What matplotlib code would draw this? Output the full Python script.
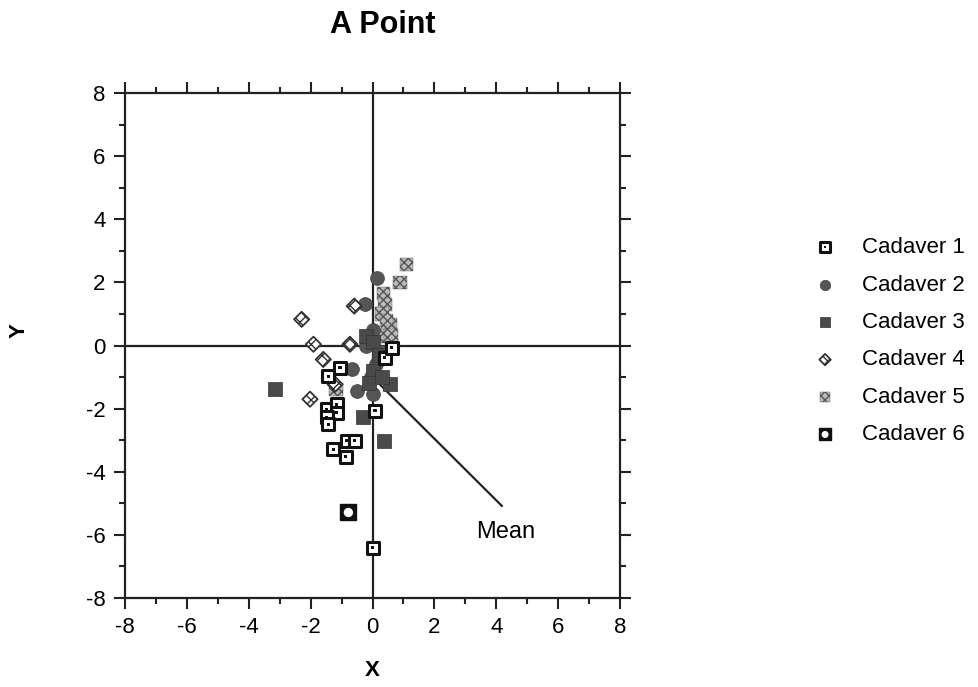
import matplotlib
matplotlib.use('Agg')
import matplotlib.pyplot as plt
from matplotlib.ticker import MultipleLocator
from matplotlib.legend_handler import HandlerTuple
import numpy as np

plt.rcParams['font.family'] = ['Liberation Sans', 'DejaVu Sans']
plt.rcParams['axes.unicode_minus'] = False

# point offsets per cadaver
c1_x = [-1.05, -1.43, -1.48, -1.16, -1.16, -1.48, -1.43, -0.83, -0.57, -1.27, -0.86, 0.08, 0.00, 0.40, 0.62]
c1_y = [-0.70, -0.97, -2.02, -1.86, -2.13, -2.28, -2.49, -3.02, -3.02, -3.28, -3.53, -2.07, -6.40, -0.39, -0.07]

c2_x = [0.14, -0.24, -0.67, -0.51, 0.03, 0.10, -0.20, 0.00, 0.30, -0.05]
c2_y = [2.13, 1.30, -0.75, -1.44, -1.54, -0.60, 0.00, 0.50, -0.20, -1.00]

c3_x = [-3.15, 0.37, -0.30, 0.57, -0.20, 0.00, 0.20, 0.00, -0.10, 0.30]
c3_y = [-1.39, -3.02, -2.28, -1.23, 0.30, 0.10, -0.30, -0.80, -1.20, -1.00]

c4_x = [-0.59, -2.29, -1.91, -0.73, -1.59, -1.21, -2.02]
c4_y = [1.25, 0.83, 0.04, 0.04, -0.44, -1.23, -1.70]

c5_x = [1.10, 0.89, 0.57, -1.18, 0.35, 0.40, 0.30, 0.45, 0.50, 0.30, 0.60]
c5_y = [2.57, 1.99, 0.67, -1.39, 1.65, 1.30, 1.00, 0.80, 0.40, 0.30, 0.30]

c6_x = [-0.78]
c6_y = [-5.29]

mean_x = [0.0, 4.18]
mean_y = [-1.0, -5.08]

labels = ['Cadaver 1', 'Cadaver 2', 'Cadaver 3', 'Cadaver 4', 'Cadaver 5', 'Cadaver 6']

fig = plt.figure(figsize=(9.79, 6.87), dpi=100)
ax = fig.add_axes([0.1277, 0.1295, 0.5056, 0.7351])
ax.set_xlim(-8, 8)
ax.set_ylim(-8, 8)

# cross-hair through the origin
ax.axhline(0, color='#222222', lw=1.6, zorder=1)
ax.axvline(0, color='#222222', lw=1.6, zorder=1)

# mean direction
ax.plot(mean_x, mean_y, color='#222222', lw=1.6, zorder=2)
ax.text(4.3, -5.9, 'Mean', ha='center', va='center', fontsize=17)

h1a = ax.scatter(c1_x, c1_y, marker='s', s=80, facecolor='white', edgecolor='#111111', linewidths=2.2, zorder=5)
h1b = ax.scatter(c1_x, c1_y, marker='s', s=5, facecolor='#111111', edgecolor='none', zorder=6)
h2 = ax.scatter(c2_x, c2_y, marker='o', s=100, facecolor='#555555', edgecolor='#444444', linewidths=0.5, zorder=4)
h3 = ax.scatter(c3_x, c3_y, marker='s', s=95, facecolor='#4a4a4a', edgecolor='#333333', linewidths=0.5, zorder=4)
h4 = ax.scatter(c4_x, c4_y, marker='D', s=60, facecolor='white', edgecolor='#333333', linewidths=1.3,
                hatch='xxx', zorder=4)
h5 = ax.scatter(c5_x, c5_y, marker='s', s=95, facecolor='#bbbbbb', edgecolor='#555555', linewidths=0.3,
                hatch='xxxx', zorder=3)
h6a = ax.scatter(c6_x, c6_y, marker='s', s=120, facecolor='#111111', edgecolor='#111111', linewidths=1, zorder=5)
h6b = ax.scatter(c6_x, c6_y, marker='o', s=45, facecolor='white', edgecolor='none', zorder=6)

ax.set_title('A Point', fontsize=22, fontweight='bold', pad=43, x=0.52)
ax.set_xlabel('X', fontsize=16, fontweight='bold')
ax.set_ylabel('Y', fontsize=16, fontweight='bold')
ax.xaxis.set_label_coords(0.5, -0.123)
ax.yaxis.set_label_coords(-0.192, 0.529)

ax.xaxis.set_major_locator(MultipleLocator(2))
ax.xaxis.set_minor_locator(MultipleLocator(1))
ax.yaxis.set_major_locator(MultipleLocator(2))
ax.yaxis.set_minor_locator(MultipleLocator(1))
ax.tick_params(which='both', direction='out', top=True, right=True, width=1.5, labelsize=16, color='#222222')
ax.tick_params(which='major', length=8, pad=6)
ax.tick_params(which='minor', length=4)
for sp in ax.spines.values():
    sp.set_linewidth(1.6)
    sp.set_color('#222222')

handles = [(h1a, h1b), h2, h3, h4, h5, (h6a, h6b)]
fig.legend(handles, labels, loc='upper left', bbox_to_anchor=(0.811, 0.684), frameon=False,
           fontsize=16, labelspacing=0.74, handletextpad=1.18, handlelength=1.0, markerscale=0.75,
           handler_map={tuple: HandlerTuple(ndivide=1, pad=0)})

fig.savefig('out.png', dpi=100)
